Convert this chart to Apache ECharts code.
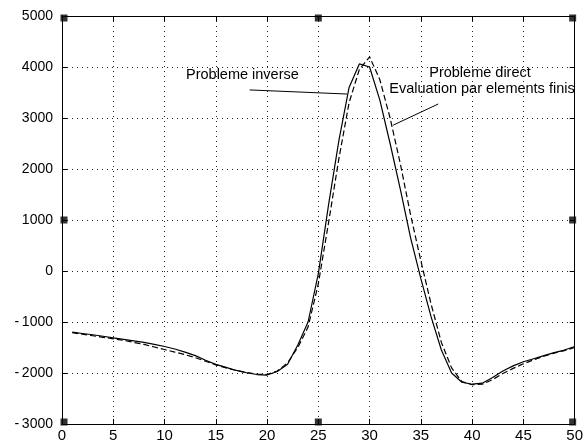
<!DOCTYPE html>
<html>
<head>
<meta charset="utf-8">
<script src="https://cdn.jsdelivr.net/npm/echarts@6/dist/echarts.min.js"></script>
<style>
  html, body { margin: 0; padding: 0; background: #fff; }
  #chart { width: 586px; height: 446px; }
</style>
</head>
<body>
<div id="chart"></div>
<script>
// sample positions along the x axis
var positions = [1, 2, 3, 4, 5, 6, 7, 8, 9, 10, 11, 12, 13, 14, 15, 16, 17, 18, 19, 20,
  21, 22, 23, 24, 25, 26, 27, 28, 29, 30, 31, 32, 33, 34, 35, 36, 37, 38, 39, 40,
  41, 42, 43, 44, 45, 46, 47, 48, 49, 50];

// Probleme inverse (solid)
var inverse = [-1200, -1225, -1250, -1280, -1310, -1340, -1370, -1400, -1440, -1480,
  -1530, -1590, -1660, -1750, -1830, -1890, -1950, -1995, -2030, -2040,
  -1970, -1830, -1450, -1000, -50, 1300, 2550, 3600, 4060, 4000,
  3350, 2500, 1600, 650, -150, -900, -1550, -2000, -2180, -2220,
  -2200, -2090, -1960, -1860, -1780, -1720, -1660, -1600, -1550, -1480];

// Probleme direct / elements finis (dashed)
var direct = [-1210, -1240, -1270, -1300, -1330, -1360, -1400, -1440, -1490, -1540,
  -1590, -1640, -1700, -1770, -1840, -1900, -1950, -1990, -2020, -2030,
  -1960, -1800, -1500, -1100, -250, 950, 2200, 3300, 3950, 4200,
  3750, 3000, 2100, 1100, 200, -650, -1400, -1900, -2170, -2230,
  -2220, -2130, -2010, -1910, -1820, -1740, -1670, -1610, -1560, -1500];

var xTicks = [0, 5, 10, 15, 20, 25, 30, 35, 40, 45, 50];
var yTicks = [-3000, -2000, -1000, 0, 1000, 2000, 3000, 4000, 5000];

// selection handles (figure corners / midpoints)
var handles = [[0, 5000], [25, 5000], [50, 5000], [0, 1000], [50, 1000], [0, -3000], [25, -3000], [50, -3000]];

// annotation pointer lines, in data coordinates
var inverseArrow = [[18.3, 3550], [27.8, 3470]];
var directArrow = [[36.7, 3275], [32.3, 2860]];

function pairs(xs, ys) {
  var out = [];
  for (var i = 0; i < xs.length; i++) out.push([xs[i], ys[i]]);
  return out;
}

var font = 'Liberation Sans, Arial, sans-serif';
var chart = echarts.init(document.getElementById('chart'));

var axisCommon = {
  type: 'value',
  axisLine: { show: true, onZero: false, lineStyle: { color: '#000', width: 1 } },
  axisTick: { show: true, inside: true, length: 5, lineStyle: { color: '#000' } }
};

var option = {
  animation: false,
  backgroundColor: '#fff',
  grid: { left: 62, right: 6, top: 16, bottom: 22, containLabel: false },
  xAxis: [
    Object.assign({}, axisCommon, {
      min: xTicks[0], max: xTicks[xTicks.length - 1], interval: 5,
      position: 'bottom',
      axisLabel: { color: '#000', fontFamily: 'Liberation Sans Narrow, ' + font, fontSize: 15, margin: 4 },
      splitLine: { show: true, lineStyle: { color: '#222', type: [1, 4], width: 1 } }
    }),
    Object.assign({}, axisCommon, {
      min: xTicks[0], max: xTicks[xTicks.length - 1], interval: 5,
      position: 'top',
      axisLabel: { show: false },
      splitLine: { show: false }
    })
  ],
  yAxis: [
    Object.assign({}, axisCommon, {
      min: yTicks[0], max: yTicks[yTicks.length - 1], interval: 1000,
      position: 'left',
      axisLabel: {
        color: '#000', fontFamily: font, fontSize: 14, margin: 9,
        formatter: function (v) { return v < 0 ? '-\u2009' + Math.abs(v) : String(v); }
      },
      splitLine: { show: true, lineStyle: { color: '#222', type: [1, 4], width: 1 } }
    }),
    Object.assign({}, axisCommon, {
      min: yTicks[0], max: yTicks[yTicks.length - 1], interval: 1000,
      position: 'right',
      axisLabel: { show: false },
      splitLine: { show: false }
    })
  ],
  series: [
    {
      name: 'Probleme inverse',
      type: 'line',
      data: pairs(positions, inverse),
      showSymbol: false,
      lineStyle: { color: '#000', width: 1.2 },
      markLine: {
        silent: true, symbol: 'none', label: { show: false },
        lineStyle: { color: '#000', width: 1, type: 'solid' },
        data: [[{ coord: inverseArrow[0] }, { coord: inverseArrow[1] }]]
      }
    },
    {
      name: 'Probleme direct',
      type: 'line',
      data: pairs(positions, direct),
      showSymbol: false,
      lineStyle: { color: '#000', width: 1.2, type: [6, 3] },
      markLine: {
        silent: true, symbol: 'none', label: { show: false },
        lineStyle: { color: '#000', width: 1, type: 'solid' },
        data: [[{ coord: directArrow[0] }, { coord: directArrow[1] }]]
      }
    },
    {
      type: 'scatter',
      data: handles.map(function (h) {
        return {
          value: h,
          symbolOffset: [h[0] === 0 ? 2 : (h[0] === 50 ? -2 : 0), h[1] === 5000 ? 2 : (h[1] === -3000 ? -2 : 0)]
        };
      }),
      symbol: 'rect',
      symbolSize: 7,
      itemStyle: { color: '#000' },
      clip: false,
      silent: true,
      z: 10
    }
  ],
  graphic: [
    { type: 'text', x: 186, y: 75, style: { text: 'Probleme inverse', font: '14.5px ' + font, fill: '#000', verticalAlign: 'middle' } },
    { type: 'text', x: 480, y: 73, style: { text: 'Probleme direct', font: '14.5px ' + font, fill: '#000', align: 'center', verticalAlign: 'middle' } },
    { type: 'text', x: 482, y: 89, style: { text: 'Evaluation par elements finis', font: '14.5px ' + font, fill: '#000', align: 'center', verticalAlign: 'middle' } }
  ]
};

chart.setOption(option);
</script>
</body>
</html>
